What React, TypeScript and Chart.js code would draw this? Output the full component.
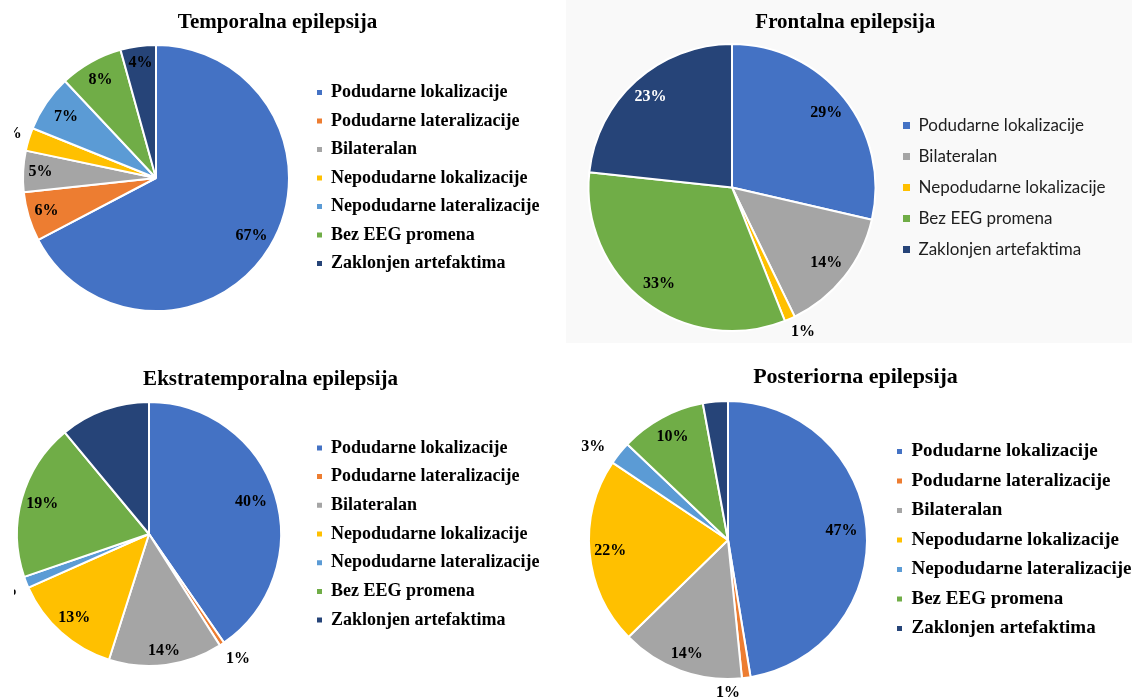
import React, { useEffect, useRef } from 'react';
import { Chart, registerables } from 'chart.js';

Chart.register(...registerables);

// ---------- data ----------
const categories = [
  'Podudarne lokalizacije',
  'Podudarne lateralizacije',
  'Bilateralan',
  'Nepodudarne lokalizacije',
  'Nepodudarne lateralizacije',
  'Bez EEG promena',
  'Zaklonjen artefaktima',
];
const frontalCategories = [
  'Podudarne lokalizacije',
  'Bilateralan',
  'Nepodudarne lokalizacije',
  'Bez EEG promena',
  'Zaklonjen artefaktima',
];
const temporalValues = [67.3, 6.0, 5.0, 2.8, 6.9, 7.7, 4.3];
const frontalValues = [28.6, 14.2, 1.2, 32.7, 23.3];
const ekstraValues = [40.3, 0.6, 13.9, 13.4, 1.4, 19.2, 11.0];
const posteriorValues = [47.4, 1.0, 14.3, 21.7, 2.7, 10.0, 2.9];

// ---------- styles ----------
const palette = ['#4472C4', '#ED7D31', '#A5A5A5', '#FFC000', '#5B9BD5', '#70AD47', '#264478'];
const frontalPalette = ['#4472C4', '#A5A5A5', '#FFC000', '#70AD47', '#264478'];
const SERIF = '"Liberation Serif", "Times New Roman", serif';
const SANS = 'Lato, "Liberation Sans", sans-serif';

// label placement: [radius factor, angle shift in degrees] or null (no label)
const temporalPlaces = [[0.84, 0], [0.86, 0], [0.87, 0], [1.15, 0], [0.82, 0], [0.85, 0], [0.87, 0]];
const frontalPlaces = [[0.84, 0], [0.84, 0], [1.12, -2.5], [0.84, 0], [0.85, 0]];
const ekstraPlaces = [[0.81, 0], [1.16, -2], [0.89, 0], [0.85, 0], [1.17, 0], [0.84, 0], null];
const posteriorPlaces = [[0.82, 0], [1.1, 7.6], [0.87, 0], [0.85, 0], [1.18, -4], [0.84, 0], null];

const panels: any[] = [
  {
    title: 'Temporalna epilepsija', labels: categories, values: temporalValues, colors: palette,
    clip: { left: 14, top: 0, width: 546, height: 350 }, bg: '#ffffff',
    canvasLeft: 0, canvasTop: 0, canvasWidth: 560, canvasHeight: 350,
    cx: 156, cy: 178, r: 134, titleY: 23, titleSize: 21,
    markerX: 317, legendFamily: SERIF, legendWeight: 'bold', legendSize: 18, rowGap: 28.5, box: 5, legendColor: '#000',
    places: temporalPlaces, labelColors: [],
  },
  {
    title: 'Frontalna epilepsija', labels: frontalCategories, values: frontalValues, colors: frontalPalette,
    clip: { left: 566, top: 0, width: 566, height: 343 }, bg: '#f9f9f9',
    canvasLeft: 566, canvasTop: 0, canvasWidth: 566, canvasHeight: 343,
    cx: 732, cy: 187.5, r: 144.5, titleY: 23, titleSize: 21,
    markerX: 903, legendFamily: SANS, legendWeight: 'normal', legendSize: 17, rowGap: 31, box: 7, legendColor: '#1e1e1e',
    places: frontalPlaces, labelColors: ['#000', '#000', '#000', '#000', '#fff'],
  },
  {
    title: 'Ekstratemporalna epilepsija', labels: categories, values: ekstraValues, colors: palette,
    clip: { left: 14, top: 350, width: 546, height: 349 }, bg: '#ffffff',
    canvasLeft: -20, canvasTop: 350, canvasWidth: 580, canvasHeight: 349,
    cx: 149, cy: 534, r: 133, titleY: 380, titleSize: 21,
    markerX: 317, legendFamily: SERIF, legendWeight: 'bold', legendSize: 18, rowGap: 28.7, box: 5, legendColor: '#000',
    places: ekstraPlaces, labelColors: [],
  },
  {
    title: 'Posteriorna epilepsija', labels: categories, values: posteriorValues, colors: palette,
    clip: { left: 560, top: 350, width: 572, height: 349 }, bg: '#ffffff',
    canvasLeft: 560, canvasTop: 350, canvasWidth: 600, canvasHeight: 349,
    cx: 728, cy: 540, r: 140, titleY: 377, titleSize: 22,
    markerX: 897, legendFamily: SERIF, legendWeight: 'bold', legendSize: 19, rowGap: 29.5, box: 5, legendColor: '#000',
    places: posteriorPlaces, labelColors: [],
  },
];

function makeLabelPlugin(cfg: any) {
  return {
    id: 'pctLabels',
    afterDatasetsDraw(chart: any) {
      const meta = chart.getDatasetMeta(0);
      const data = chart.data.datasets[0].data as number[];
      const total = data.reduce((a: number, b: number) => a + b, 0);
      const ctx = chart.ctx;
      ctx.save();
      ctx.font = `bold 16px ${SERIF}`;
      ctx.textAlign = 'center';
      ctx.textBaseline = 'middle';
      meta.data.forEach((arc: any, i: number) => {
        const place = cfg.places[i];
        if (!place) return;
        const p = arc.getProps(['x', 'y', 'startAngle', 'endAngle', 'outerRadius'], true);
        const a = (p.startAngle + p.endAngle) / 2 + (place[1] * Math.PI) / 180;
        const rr = p.outerRadius * place[0];
        ctx.fillStyle = cfg.labelColors[i] || '#000';
        ctx.fillText(Math.round((data[i] / total) * 100) + '%', p.x + Math.cos(a) * rr, p.y + Math.sin(a) * rr);
      });
      ctx.restore();
    },
  };
}

function PiePanel({ cfg }: { cfg: any }) {
  const ref = useRef<HTMLCanvasElement>(null);
  useEffect(() => {
    const canvas = ref.current!;
    const lh = cfg.titleSize * 1.2;
    const titlePadTop = cfg.titleY - cfg.canvasTop - lh / 2;
    const titlePadBottom = cfg.cy - cfg.r - cfg.canvasTop - titlePadTop - lh;
    const legPad = cfg.rowGap - cfg.legendSize;
    const legendLeft = cfg.markerX - legPad;
    const areaLeft = 2 * cfg.cx - legendLeft;
    const padL = areaLeft - cfg.canvasLeft;
    const padB = cfg.canvasTop + cfg.canvasHeight - (cfg.cy + cfg.r);
    const baseGen = (Chart as any).overrides.doughnut.plugins.legend.labels.generateLabels;
    const options: any = {
      responsive: false,
      animation: false,
      layout: { padding: { left: padL, right: 0, top: 0, bottom: padB } },
      plugins: {
        title: {
          display: true,
          text: cfg.title,
          color: '#000',
          font: { family: SERIF, size: cfg.titleSize, weight: 'bold', lineHeight: 1.2 },
          padding: { top: titlePadTop, bottom: titlePadBottom },
        },
        legend: {
          position: 'right',
          align: 'center',
          fullSize: false,
          labels: {
            boxWidth: cfg.box,
            boxHeight: cfg.box,
            padding: legPad,
            color: cfg.legendColor,
            font: { family: cfg.legendFamily, size: cfg.legendSize, weight: cfg.legendWeight },
            generateLabels: (chart: any) =>
              baseGen(chart).map((l: any) => ({ ...l, lineWidth: 0, strokeStyle: 'rgba(0,0,0,0)' })),
          },
        },
        tooltip: { enabled: false },
      },
    };
    const chart = new Chart(canvas, {
      type: 'pie',
      data: {
        labels: cfg.labels,
        datasets: [
          {
            data: cfg.values,
            backgroundColor: cfg.colors,
            borderColor: '#ffffff',
            borderWidth: 2,
          },
        ],
      },
      options,
      plugins: [makeLabelPlugin(cfg)],
    });
    const lw = (chart as any).legend.width;
    const padR = cfg.canvasLeft + cfg.canvasWidth - legendLeft - lw;
    options.layout.padding = { left: padL, right: padR, top: 0, bottom: padB };
    chart.update();
    return () => chart.destroy();
  }, [cfg]);

  return (
    <div
      style={{
        position: 'absolute',
        left: cfg.clip.left,
        top: cfg.clip.top,
        width: cfg.clip.width,
        height: cfg.clip.height,
        overflow: 'hidden',
        background: cfg.bg,
      }}
    >
      <canvas
        ref={ref}
        width={cfg.canvasWidth}
        height={cfg.canvasHeight}
        style={{
          position: 'absolute',
          left: cfg.canvasLeft - cfg.clip.left,
          top: cfg.canvasTop - cfg.clip.top,
          width: cfg.canvasWidth,
          height: cfg.canvasHeight,
        }}
      />
    </div>
  );
}

export default function App() {
  return (
    <div
      style={{
        position: 'absolute',
        left: 0,
        top: 0,
        width: 1132,
        height: 699,
        overflow: 'hidden',
        background: '#ffffff',
      }}
    >
      {panels.map((p, i) => (
        <PiePanel key={i} cfg={p} />
      ))}
    </div>
  );
}
